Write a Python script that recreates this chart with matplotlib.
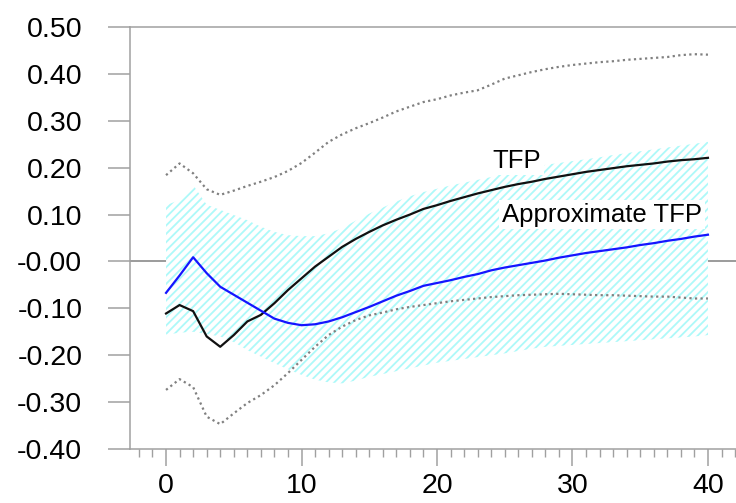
import numpy as np
import matplotlib.pyplot as plt
from matplotlib.ticker import FixedLocator, MultipleLocator

plt.rcParams['font.family'] = ['Liberation Sans', 'DejaVu Sans']
plt.rcParams['hatch.linewidth'] = 1.3

# Data (horizon 0..40)
horizon = np.arange(0, 41)

tfp = [-0.111, -0.093, -0.106, -0.160, -0.182, -0.157, -0.128, -0.114, -0.089, -0.061,
       -0.036, -0.011, 0.010, 0.031, 0.048, 0.063, 0.077, 0.089, 0.100, 0.112,
       0.120, 0.129, 0.137, 0.145, 0.152, 0.159, 0.165, 0.170, 0.176, 0.181,
       0.186, 0.191, 0.195, 0.199, 0.203, 0.206, 0.209, 0.213, 0.216, 0.218, 0.221]

approx_tfp = [-0.067, -0.030, 0.009, -0.025, -0.054, -0.071, -0.088, -0.105, -0.122, -0.131,
              -0.136, -0.134, -0.128, -0.119, -0.108, -0.097, -0.085, -0.073, -0.063, -0.052,
              -0.046, -0.040, -0.033, -0.027, -0.019, -0.013, -0.008, -0.003, 0.002, 0.008,
              0.013, 0.018, 0.022, 0.026, 0.030, 0.035, 0.039, 0.044, 0.048, 0.053, 0.057]

tfp_upper = [0.184, 0.209, 0.188, 0.154, 0.142, 0.151, 0.161, 0.170, 0.180, 0.193,
             0.210, 0.232, 0.255, 0.271, 0.284, 0.295, 0.307, 0.320, 0.330, 0.340,
             0.346, 0.354, 0.360, 0.365, 0.377, 0.390, 0.397, 0.404, 0.410, 0.415,
             0.419, 0.422, 0.425, 0.427, 0.430, 0.432, 0.434, 0.436, 0.440, 0.442, 0.441]

tfp_lower = [-0.274, -0.251, -0.268, -0.331, -0.347, -0.324, -0.302, -0.285, -0.264, -0.238,
             -0.210, -0.182, -0.157, -0.139, -0.125, -0.115, -0.109, -0.102, -0.097, -0.093,
             -0.089, -0.085, -0.082, -0.079, -0.076, -0.074, -0.072, -0.071, -0.070, -0.069,
             -0.070, -0.071, -0.072, -0.072, -0.073, -0.074, -0.075, -0.075, -0.077, -0.079, -0.079]

band_upper = [0.120, 0.131, 0.163, 0.121, 0.110, 0.099, 0.088, 0.074, 0.063, 0.056,
              0.054, 0.054, 0.060, 0.071, 0.087, 0.102, 0.115, 0.128, 0.139, 0.148,
              0.155, 0.162, 0.168, 0.174, 0.180, 0.188, 0.195, 0.200, 0.206, 0.210,
              0.214, 0.218, 0.222, 0.227, 0.231, 0.235, 0.239, 0.243, 0.247, 0.251, 0.255]

band_lower = [-0.156, -0.152, -0.150, -0.155, -0.160, -0.172, -0.189, -0.203, -0.217, -0.230,
              -0.242, -0.252, -0.258, -0.260, -0.254, -0.246, -0.240, -0.234, -0.228, -0.222,
              -0.216, -0.212, -0.208, -0.204, -0.200, -0.196, -0.191, -0.186, -0.182, -0.180,
              -0.178, -0.176, -0.174, -0.172, -0.170, -0.168, -0.166, -0.164, -0.162, -0.160, -0.157]

y_ticks = [-0.4, -0.3, -0.2, -0.1, 0.0, 0.1, 0.2, 0.3, 0.4, 0.5]
y_labels = ["-0.40", "-0.30", "-0.20", "-0.10", "-0.00", "0.10", "0.20", "0.30", "0.40", "0.50"]
x_ticks = [0, 10, 20, 30, 40]

AXIS_GRAY = "#a0a0a0"

fig = plt.figure(figsize=(7.36, 5.03), dpi=100)
ax = fig.add_axes([130 / 736, 1 - 449 / 503, 606 / 736, 422 / 503])

ax.axhline(0, color="#808080", lw=1.1, zorder=1)

# shaded band: light cyan hatch on white, hides the zero line
ax.fill_between(horizon, band_lower, band_upper, facecolor="white",
                edgecolor="#adf9f9", hatch="////", linewidth=0, zorder=2)

ax.plot(horizon, tfp_upper, color="#808080", lw=1.6, ls=(0, (1, 1.5)), zorder=3)
ax.plot(horizon, tfp_lower, color="#808080", lw=1.6, ls=(0, (1, 1.5)), zorder=3)
ax.plot(horizon, tfp, color="#111111", lw=1.6, zorder=4)
ax.plot(horizon, approx_tfp, color="#1515ff", lw=1.6, zorder=4)

box = dict(facecolor="white", edgecolor="none", pad=2)
ax.text(25.9, 0.200, "TFP", fontsize=18.5, ha="center", va="baseline", bbox=box, zorder=5)
ax.text(32.2, 0.085, "Approximate TFP", fontsize=18.5, ha="center", va="baseline", bbox=box, zorder=5)

ax.set_xlim(-2.66, 42.07)
ax.set_ylim(-0.4, 0.5)

for side in ["left", "top", "bottom"]:
    ax.spines[side].set_color(AXIS_GRAY)
    ax.spines[side].set_linewidth(1.1)
ax.spines["right"].set_visible(False)

ax.yaxis.set_major_locator(FixedLocator(y_ticks))
ax.set_yticklabels(y_labels)
ax.xaxis.set_major_locator(FixedLocator(x_ticks))
ax.xaxis.set_minor_locator(MultipleLocator(1))

ax.tick_params(axis="y", direction="out", length=15.8, width=1.1, color=AXIS_GRAY,
               pad=18.5, labelsize=20.5)
ax.tick_params(axis="x", which="major", direction="out", length=12, width=1.1,
               color=AXIS_GRAY, pad=5.5, labelsize=20.5)
ax.tick_params(axis="x", which="minor", direction="out", length=5.8, width=1.0,
               color=AXIS_GRAY)

fig.savefig("out.png", dpi=100)
